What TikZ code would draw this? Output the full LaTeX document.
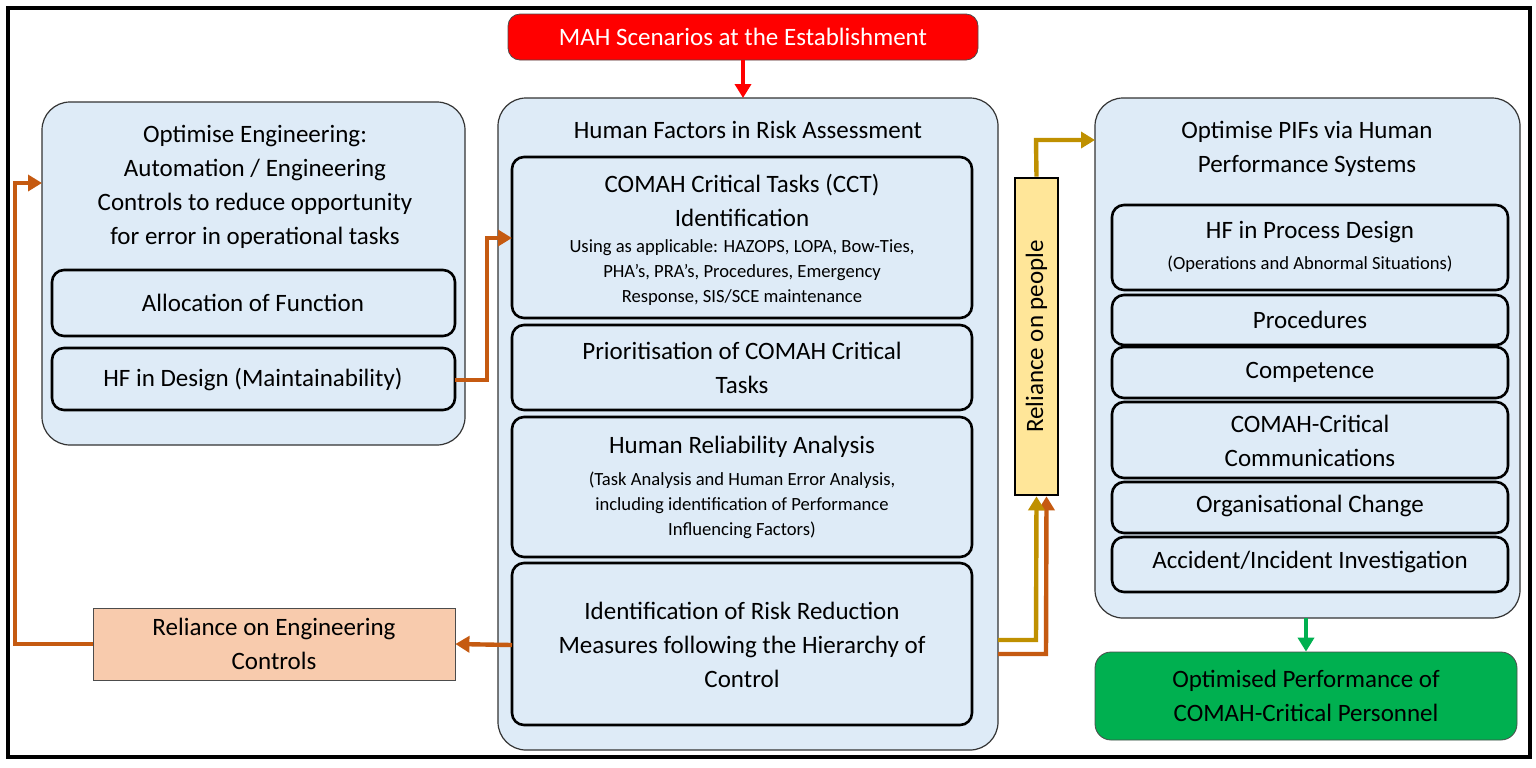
\documentclass[tikz,border=0pt]{standalone}
\usepackage{fontspec}
\setmainfont{Carlito}
\usetikzlibrary{arrows.meta}
\definecolor{pale}{RGB}{222,235,247}
\definecolor{org}{RGB}{197,90,17}
\definecolor{gold}{RGB}{191,144,0}
\definecolor{peach}{RGB}{248,203,173}
\definecolor{yel}{RGB}{255,230,153}
\definecolor{grn}{RGB}{0,176,80}
\tikzset{
 big/.style={draw=black!80,fill=pale,rounded corners=14pt,line width=0.6pt},
 sub/.style={draw=black,fill=pale,rounded corners=6pt,line width=1.3pt},
 tx/.style={align=center,font=\fontsize{12.5}{17}\selectfont},
 sm/.style={align=center,font=\fontsize{9.3}{12.5}\selectfont},
 oa/.style={draw=org,line width=2.2pt,-{Triangle[length=7pt,width=8pt]}},
 ga/.style={draw=gold,line width=2.2pt,-{Triangle[length=7pt,width=8pt]}},
}
\begin{document}
\begin{tikzpicture}[x=0.5pt,y=-0.5pt]
\useasboundingbox (0,0) rectangle (1536,767);
\draw[line width=1.8pt] (8,8) rectangle (1530,757);
% left
\draw[big] (42,102) rectangle (465,445);
\node[tx] (lt) at (255,187) {Optimise Engineering:\\Automation / Engineering\\Controls to reduce opportunity\\for error in operational tasks};
\draw[sub] (52,270) rectangle (455,336);
\node[tx] (aof) at (253,303) {Allocation of Function};
\draw[sub] (52,348) rectangle (455,410) coordinate (hfdBR);
\node[tx] (hfd) at (253,379) {HF in Design (Maintainability)};
% middle
\draw[big] (498,98) rectangle (998,750);
\node[tx] (mt) at (748,130) {Human Factors in Risk Assessment};
\draw[sub] (512,157) rectangle (972,318);
\node[tx] (cct) at (742,200) {COMAH Critical Tasks (CCT)\\Identification};
\node[sm] (cctd) at (742,273) {Using as applicable: HAZOPS, LOPA, Bow-Ties,\\PHA’s, PRA’s, Procedures, Emergency\\Response, SIS/SCE maintenance};
\draw[sub] (512,325) rectangle (972,410);
\node[tx] (pri) at (742,368) {Prioritisation of COMAH Critical\\Tasks};
\draw[sub] (512,417) rectangle (972,557);
\node[tx] (hra) at (742,447) {Human Reliability Analysis};
\node[sm] (hrad) at (742,505) {(Task Analysis and Human Error Analysis,\\including identification of Performance\\Influencing Factors)};
\draw[sub] (512,563) rectangle (972,725);
\node[tx,font=\fontsize{12.5}{17}\selectfont] (irr) at (742,645) {Identification of Risk Reduction\\Measures following the Hierarchy of\\Control};
% right
\draw[big] (1095,98) rectangle (1520,618);
\node[tx] (rt) at (1307,149) {Optimise PIFs via Human\\Performance Systems};
\draw[sub] (1112,205) rectangle (1508,290);
\node[tx] (hfp) at (1310,232) {HF in Process Design};
\node[sm] (hfpd) at (1310,264) {(Operations and Abnormal Situations)};
\draw[sub] (1112,295) rectangle (1508,345);
\node[tx] (proc) at (1310,320) {Procedures};
\draw[sub] (1112,347) rectangle (1508,398);
\node[tx] (comp) at (1310,372) {Competence};
\draw[sub] (1112,402) rectangle (1508,478);
\node[tx] (cc) at (1310,441) {COMAH-Critical\\Communications};
\draw[sub] (1112,482) rectangle (1508,533);
\node[tx] (oc) at (1310,506) {Organisational Change};
\draw[sub] (1112,537) rectangle (1508,592);
\node[tx] (aii) at (1310,562) {Accident/Incident Investigation};
% top red
\node[draw=black!70,fill=red,rounded corners=6pt,minimum width=235pt,minimum height=23pt,text=white,tx] (mah) at (743,37) {MAH Scenarios at the Establishment};
\coordinate (mtop) at (743,98);
\draw[draw=red,line width=2pt,-{Triangle[length=7pt,width=8pt]}] (mah.south) -- (mtop);
% green
\node[draw=black!70,fill=grn,rounded corners=8pt,minimum width=211pt,minimum height=44pt,tx] (opt) at (1306,696) {Optimised Performance of\\COMAH-Critical Personnel};
\coordinate (rbot) at (1306,618);
\draw[draw=grn,line width=2pt,-{Triangle[length=7pt,width=8pt]}] (rbot) -- (opt.north);
% reliance on people
\node[draw=black,line width=1.3pt,fill=yel,minimum width=158.5pt,minimum height=21.5pt,rotate=90,tx] (rop) at (1036.5,336.5) {Reliance on people};
% reliance on engineering
\node[draw=black!70,fill=peach,minimum width=181pt,minimum height=36pt,tx] (roe) at (274,644) {Reliance on Engineering\\Controls};
% arrows
\coordinate (irrL) at (512,645);
\coordinate (irrR1) at (998,640);
\coordinate (irrR2) at (998,654);
\coordinate (lbox) at (42,183);
\coordinate (cctL) at (512,238);
\coordinate (rboxL) at (1095,140);
\draw[oa] (irrL) -- (roe.east);
\draw[oa] (roe.west) -- (15,644) -- (15,183) -- (lbox);
\draw[oa] (455,380) -- (487,380) -- (487,238) -- (cctL);
\draw[oa] (irrR2) -- (1046,654) -- ([xshift=5pt]rop.west);
\draw[ga] (irrR1) -- (1036,640) -- (rop.west);
\draw[ga] (rop.east) -- (1036,140) -- (rboxL);
\end{tikzpicture}
\end{document}
